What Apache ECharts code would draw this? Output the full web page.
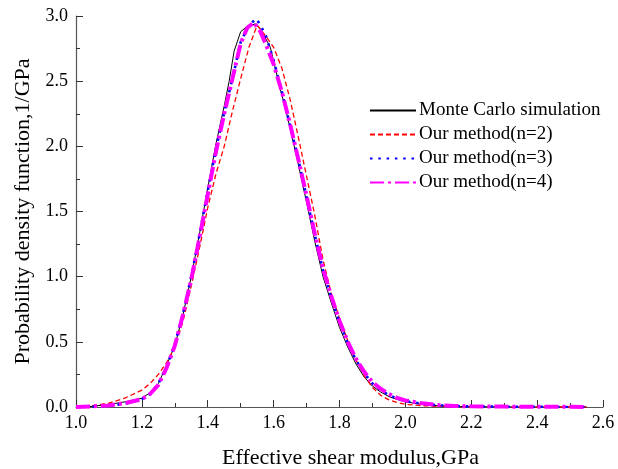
<!DOCTYPE html>
<html>
<head>
<meta charset="utf-8">
<script src="https://cdn.jsdelivr.net/npm/echarts@6/dist/echarts.min.js"></script>
<style>html,body{margin:0;padding:0;background:#fff}#c{width:618px;height:469px}</style>
</head>
<body>
<div id="c"></div>
<script>
var seriesNames = ["Monte Carlo simulation", "Our method(n=2)", "Our method(n=3)", "Our method(n=4)"];
var xTicks = [1.0, 1.2, 1.4, 1.6, 1.8, 2.0, 2.2, 2.4, 2.6];
var yTicks = [0.0, 0.5, 1.0, 1.5, 2.0, 2.5, 3.0];

var xMC = [1.00,1.05,1.10,1.15,1.20,1.225,1.25,1.275,1.30,1.325,1.35,1.375,1.40,1.425,1.45,1.465,1.48,1.50,1.52,1.545,1.56,1.575,1.59,1.605,1.62,1.635,1.65,1.675,1.70,1.725,1.75,1.775,1.80,1.825,1.85,1.875,1.90,1.925,1.95,1.975,2.00,2.05,2.10,2.15,2.20,2.30,2.40,2.50,2.55];
var yMC = [0.0,0.005,0.02,0.04,0.067,0.11,0.18,0.32,0.47,0.71,1.0,1.33,1.68,2.02,2.31,2.50,2.73,2.88,2.92,2.94,2.90,2.83,2.76,2.60,2.44,2.30,2.14,1.86,1.57,1.27,1.00,0.80,0.61,0.46,0.33,0.23,0.16,0.115,0.08,0.058,0.04,0.02,0.01,0.005,0.002,0.001,0.0,0.0,0.0];

var xN2 = [1.00,1.05,1.10,1.15,1.20,1.225,1.25,1.275,1.30,1.325,1.35,1.375,1.40,1.425,1.45,1.475,1.50,1.525,1.55,1.575,1.60,1.625,1.65,1.675,1.70,1.725,1.75,1.775,1.80,1.825,1.85,1.875,1.90,1.925,1.95,1.975,2.00,2.05,2.10,2.20,2.30,2.40,2.50,2.55];
var yN2 = [0.005,0.01,0.03,0.07,0.13,0.18,0.25,0.34,0.46,0.66,0.93,1.22,1.53,1.79,2.00,2.27,2.52,2.76,2.93,2.85,2.76,2.60,2.36,2.07,1.77,1.47,1.13,0.87,0.68,0.51,0.36,0.24,0.15,0.09,0.055,0.035,0.02,0.01,0.005,0.002,0.0,0.0,0.0,0.0];

var xN3 = [1.00,1.05,1.10,1.15,1.20,1.225,1.25,1.275,1.30,1.325,1.35,1.375,1.40,1.425,1.45,1.475,1.50,1.525,1.548,1.575,1.60,1.625,1.65,1.675,1.70,1.725,1.75,1.775,1.80,1.825,1.85,1.875,1.90,1.925,1.95,1.975,2.00,2.05,2.10,2.15,2.20,2.30,2.40,2.50,2.55];
var yN3 = [0.0,0.003,0.01,0.025,0.06,0.10,0.18,0.31,0.48,0.72,1.0,1.32,1.66,1.98,2.26,2.52,2.80,2.93,2.98,2.86,2.66,2.42,2.16,1.90,1.61,1.32,1.05,0.84,0.65,0.49,0.36,0.26,0.18,0.13,0.09,0.065,0.045,0.025,0.013,0.007,0.004,0.002,0.001,0.0,0.0];

var xN4 = [1.00,1.05,1.10,1.15,1.20,1.225,1.25,1.275,1.30,1.325,1.35,1.375,1.40,1.425,1.45,1.475,1.50,1.52,1.54,1.56,1.58,1.60,1.625,1.65,1.675,1.70,1.725,1.75,1.775,1.80,1.825,1.85,1.875,1.90,1.925,1.95,1.975,2.00,2.05,2.10,2.15,2.20,2.30,2.40,2.50,2.55];
var yN4 = [0.0,0.005,0.012,0.03,0.06,0.10,0.17,0.30,0.47,0.71,0.98,1.30,1.63,1.96,2.25,2.52,2.79,2.91,2.95,2.88,2.76,2.63,2.42,2.17,1.90,1.62,1.33,1.06,0.85,0.66,0.50,0.37,0.27,0.19,0.14,0.10,0.07,0.05,0.028,0.015,0.008,0.005,0.003,0.002,0.001,0.0];

function pairs(xs, ys){ return xs.map(function(x,i){ return [x, ys[i]]; }); }

var font = "'Liberation Serif', 'Times New Roman', serif";
var chart = echarts.init(document.getElementById('c'), null, {renderer:'canvas'});
var axisLine = {show:true, lineStyle:{color:'#555', width:1.2}};
chart.setOption({
  animation:false,
  backgroundColor:'#fff',
  grid:{left:76, right:15, top:16, bottom:62, containLabel:false, outerBoundsMode:'none'},
  legend:{
    orient:'vertical', left:364, top:96, itemWidth:46, itemHeight:14, itemGap:5,
    itemStyle:{opacity:0},
    textStyle:{fontFamily:font, fontSize:19, color:'#000', padding:[0,0,0,-2]},
    data:seriesNames
  },
  xAxis:{
    type:'value', min:xTicks[0], max:xTicks[xTicks.length-1], interval:0.2,
    name:'Effective shear modulus,GPa', nameLocation:'middle', nameGap:40,
    nameTextStyle:{fontFamily:font, fontSize:22, color:'#000', padding:[0,0,0,22]},
    axisLine:axisLine,
    axisTick:{show:true, inside:true, length:7, lineStyle:{color:'#333'}},
    minorTick:{show:true, splitNumber:2, length:4, lineStyle:{color:'#333'}},
    splitLine:{show:false},
    axisLabel:{fontFamily:font, fontSize:18, color:'#000', margin:7, formatter:function(v){return v.toFixed(1);}}
  },
  yAxis:{
    type:'value', min:yTicks[0], max:yTicks[yTicks.length-1], interval:0.5,
    name:'Probability density function,1/GPa', nameLocation:'middle', nameGap:36,
    nameTextStyle:{fontFamily:font, fontSize:22, color:'#000'},
    axisLine:axisLine,
    axisTick:{show:true, inside:true, length:7, lineStyle:{color:'#333'}},
    minorTick:{show:true, splitNumber:2, length:4, lineStyle:{color:'#333'}},
    splitLine:{show:false},
    axisLabel:{fontFamily:font, fontSize:18, color:'#000', margin:8, formatter:function(v){return v.toFixed(1);}}
  },
  series:[
    {name:seriesNames[0], type:'line', symbol:'none', data:pairs(xMC,yMC), z:2,
     itemStyle:{color:'#000'}, lineStyle:{color:'#000', width:1}},
    {name:seriesNames[1], type:'line', symbol:'none', data:pairs(xN2,yN2), z:3,
     itemStyle:{color:'#ff0000'}, lineStyle:{color:'#ff0000', width:1.3, type:[5,3]}},
    {name:seriesNames[2], type:'line', symbol:'none', data:pairs(xN3,yN3), z:4,
     itemStyle:{color:'#0000ff'}, lineStyle:{color:'#0000ff', width:2.6, type:[2.5,5.8]}},
    {name:seriesNames[3], type:'line', symbol:'none', data:pairs(xN4,yN4), z:5,
     itemStyle:{color:'#ff00ff'}, lineStyle:{color:'#ff00ff', width:4, type:[14,4,3,4]}}
  ]
});
</script>
</body>
</html>
